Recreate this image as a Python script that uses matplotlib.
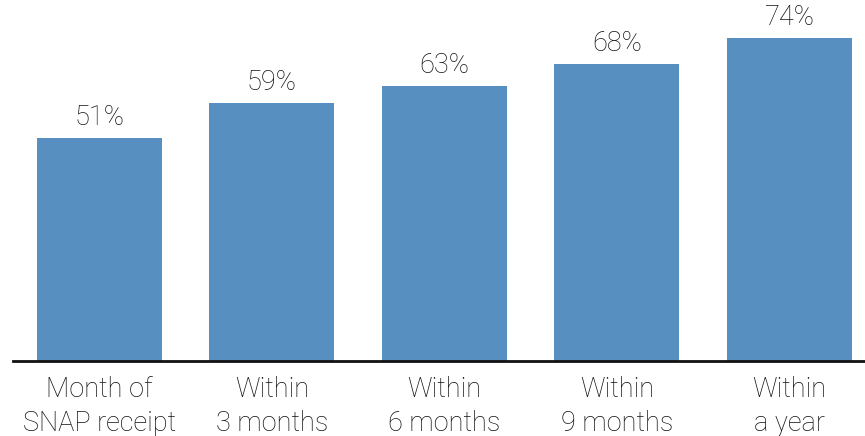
import matplotlib
matplotlib.use("Agg")
import matplotlib.pyplot as plt

categories = ["Month of\nSNAP receipt", "Within\n3 months", "Within\n6 months", "Within\n9 months", "Within\na year"]
values = [51, 59, 63, 68, 74]
value_labels = ["51%", "59%", "63%", "68%", "74%"]

plt.rcParams['font.family'] = ['Roboto', 'DejaVu Sans']
plt.rcParams['font.weight'] = 'light'

fig = plt.figure(figsize=(8.65, 4.36), dpi=100)
ax = fig.add_axes([0.015, 0.172, 0.985, 0.828])
x = list(range(len(values)))
bars = ax.bar(x, values, width=0.725, color="#5790c0")
ax.set_xlim(-0.501, 4.438)
ax.set_ylim(0, 82.7)
for xi, v, lab in zip(x, values, value_labels):
    ax.annotate(lab, (xi, v), xytext=(0, 7), textcoords="offset pixels",
                ha="center", va="bottom", fontsize=19.5, color="#111111")
for s in ["top", "right", "left"]:
    ax.spines[s].set_visible(False)
ax.spines["bottom"].set_linewidth(2)
ax.spines["bottom"].set_color("#111111")
ax.set_yticks([])
ax.set_xticks(x)
ax.set_xticklabels(categories, fontsize=19.5, color="#111111", linespacing=1.32)
ax.tick_params(axis="x", length=0, pad=11)
fig.savefig("out.png", dpi=100)
